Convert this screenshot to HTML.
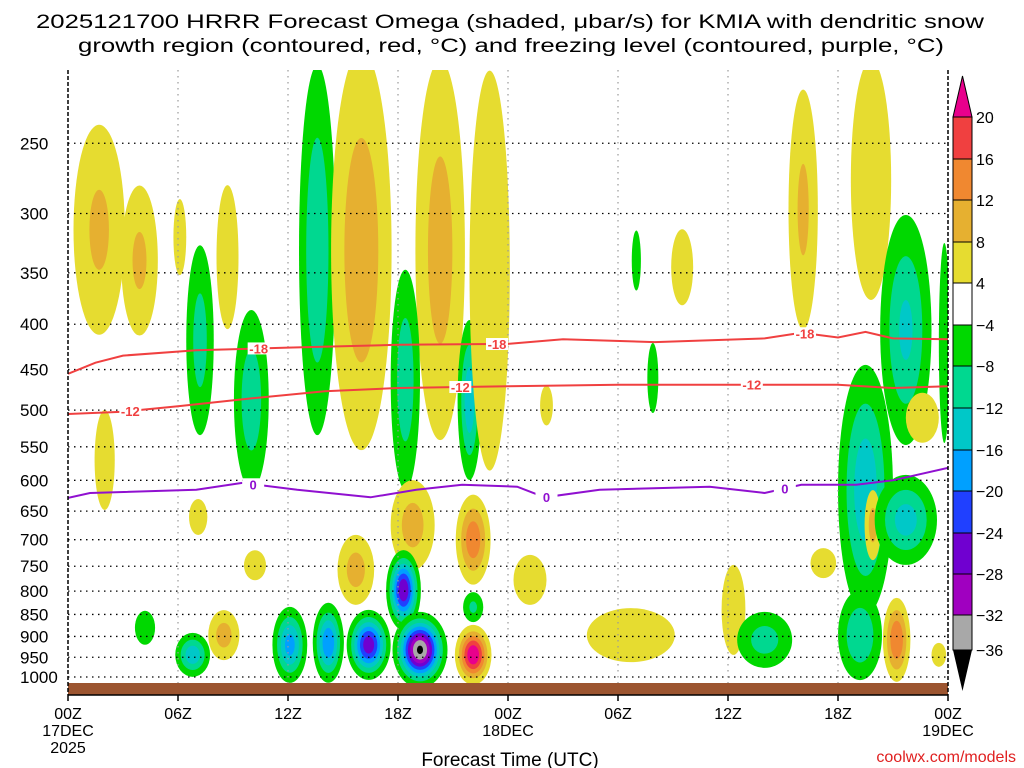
<!DOCTYPE html>
<html><head><meta charset="utf-8"><style>
body{margin:0;background:#fff;}
svg{display:block;font-family:"Liberation Sans",sans-serif;}
</style></head><body>
<svg id="c" width="1024" height="768" viewBox="0 0 1024 768">
<g font-size="19" fill="#000" text-anchor="middle">
<text x="510" y="28" textLength="948" lengthAdjust="spacingAndGlyphs">2025121700 HRRR Forecast Omega (shaded, μbar/s) for KMIA with dendritic snow</text>
<text x="511" y="52" textLength="866" lengthAdjust="spacingAndGlyphs">growth region (contoured, red, °C) and freezing level (contoured, purple, °C)</text>
</g>
<defs><clipPath id="pc"><rect x="68" y="70" width="880" height="613"/></clipPath></defs>
<g id="fields" clip-path="url(#pc)"></g>
<g id="grid"></g>
<g id="lines" clip-path="url(#pc)"></g>
<rect x="68" y="683" width="880" height="12" fill="#9c5530"/>
<g id="axes"></g>
<g id="cbar"></g>
<text x="510" y="766" font-size="19" text-anchor="middle">Forecast Time (UTC)</text>
<text x="1016" y="762" font-size="16" text-anchor="end" fill="#e02020">coolwx.com/models</text>
</svg>
<script>
const NS="http://www.w3.org/2000/svg";
// ---- data ----
const pressureTicks=[250,300,350,400,450,500,550,600,650,700,750,800,850,900,950,1000];
const timeTickHours=[0,6,12,18,24,30,36,42,48];
const timeTickLabels=["00Z","06Z","12Z","18Z","00Z","06Z","12Z","18Z","00Z"];
const cbarLevels=[20,16,12,8,4,-4,-8,-12,-16,-20,-24,-28,-32,-36];
const posThresh=[4,8,12,16,20];
const posColors=["#e6dc30","#e6b030","#f08830","#f04040","#e8008c"];
const negThresh=[4,8,12,16,20,24,28,32,36];
const negColors=["#00d800","#00d890","#00c8c8","#00a0ff","#2040ff","#7000d0","#a000c0","#a8a8a8","#000000"];
// omega blobs: hour, pressure, peak value, half width (hours), half height (px)
const blobHour=[1.7,3.9,6.1,8.7,7.2,10.0,13.6,16.0,20.3,18.4,21.9,23.0,31.0,33.5,40.1,43.8,45.7,43.5,46.6,2.0,7.1,10.2,15.7,18.8,22.1,22.1,22.1,18.3,19.2,16.4,14.2,12.1,6.8,4.2,8.5,25.2,30.7,36.3,38.0,41.2,43.9,45.2,47.5,45.7,43.2,31.9,26.1,47.8];
const blobPres=[313,339,319,336,417,487,330,330,330,462,487,348,339,345,297,275,406,615,510,569,660,748,757,674,700,944,834,798,932,920,915,920,944,880,897,777,897,840,908,744,674,908,944,665,897,460,494,420];
const blobVal=[9,9,5,5,-10,-11,-12,11,10,-11,-15,6,-5,5,9,6,-13,-15,5,8,5,5,10,10,15,24,-9,-28,-37,-27,-20,-18,-15,-8,10,5,8,6,-10,5,10,16,5,-14,-12,-6,5,-7];
const blobHalfW=[1.4,1.0,0.35,0.6,0.75,0.95,1.0,1.65,1.35,0.8,0.65,1.1,0.25,0.6,0.8,1.1,1.4,1.5,0.9,0.55,0.5,0.6,1.0,1.2,0.95,1.0,0.55,0.95,1.5,1.2,0.85,0.95,0.95,0.55,0.85,0.9,2.4,0.65,1.5,0.7,0.45,0.75,0.4,1.7,1.2,0.3,0.35,0.3];
const blobHalfH=[105,75,38,72,95,90,185,200,190,110,80,200,30,38,120,120,115,125,25,50,18,15,35,45,45,30,15,40,38,35,40,38,22,17,25,25,27,45,28,15,35,42,12,45,45,35,20,100];
// temperature contour lines
const lineHours=[[0,1.5,3,7,12,18,24,27,32,38,40,42,43.5,45,48],[0,3,6,10,14,18,24,30,36,42,45,48],[0,1.2,7,9.5,12.5,16.5,19,21.5,24.5,26,29,35,38,40,43,45,48]];
const linePres=[[455,442,434,428,425,422,421,416,419,415,409,414,408,415,416],[505,502,495,485,476,472,470,468,468,468,472,470],[628,620,615,604,615,627,615,607,610,627,615,610,620,607,607,600,581]];
const lineLabels=["-18","-12","0"];
const lineColors=["#f04040","#f04040","#9010d0"];
const labelHours=[[10.4,23.4,40.2],[3.4,21.4,37.3],[10.1,26.1,39.1]];
// ---- axes functions ----
const X0=68,X1=948;
const xs=h=>X0+(X1-X0)*h/48;
const ys=p=>677+385*Math.log(p/1000);
function el(tag,attrs,parent){const e=document.createElementNS(NS,tag);for(const k in attrs)e.setAttribute(k,attrs[k]);parent.appendChild(e);return e;}
const fields=document.getElementById('fields');
for(let i=0;i<blobVal.length;i++){
  const v=blobVal[i],neg=v<0,a=Math.abs(v);
  const th=neg?negThresh:posThresh,cols=neg?negColors:posColors;
  const cx=xs(blobHour[i]),cy=ys(blobPres[i]);
  const rx=blobHalfW[i]*(X1-X0)/48,ry=blobHalfH[i];
  const g=el('g',{},fields);
  
  
  for(let k=0;k<th.length;k++){
    if(a<=th[k])break;
    const s=Math.sqrt(Math.log(a/th[k])/Math.log(a/4));
    el('ellipse',{cx:cx,cy:cy,rx:rx*s,ry:ry*s,fill:cols[k]},g);
  }
}
const grid=document.getElementById('grid');
pressureTicks.forEach(p=>{
  const l=el('line',{x1:X0,x2:X1,y1:ys(p),y2:ys(p),stroke:'#000','stroke-width':1.3,'stroke-dasharray':'1.5 4.5'},grid);
  
  
});
timeTickHours.slice(1,-1).forEach(h=>{
  el('line',{x1:xs(h),x2:xs(h),y1:70,y2:683,stroke:'#999','stroke-width':1.2,'stroke-dasharray':'1.5 4.5'},grid);
});
const lines=document.getElementById('lines');
lineHours.forEach((hs,j)=>{
  const d=hs.map((h,i)=>(i?'L':'M')+xs(h).toFixed(1)+' '+ys(linePres[j][i]).toFixed(1)).join(' ');
  const pth=el('path',{d:d,fill:'none',stroke:lineColors[j],'stroke-width':2},lines);
  
  
  labelHours[j].forEach(h=>{
    let k=0;while(k<hs.length-2&&hs[k+1]<h)k++;
    const f=(h-hs[k])/(hs[k+1]-hs[k]);
    const p=linePres[j][k]+f*(linePres[j][k+1]-linePres[j][k]);
    el('rect',{x:xs(h)-11,y:ys(p)-6,width:22,height:12,fill:'#fff'},lines);
    const t=el('text',{x:xs(h),y:ys(p)+5,'font-size':13,'font-weight':'bold','text-anchor':'middle',fill:lineColors[j]},lines);
    t.textContent=lineLabels[j];
    
    
  });
});
const axes=document.getElementById('axes');
el('line',{x1:X0,x2:X0,y1:70,y2:695,stroke:'#000','stroke-width':1.5,'stroke-dasharray':'4 2'},axes);
el('line',{x1:X1,x2:X1,y1:70,y2:695,stroke:'#000','stroke-width':1.5,'stroke-dasharray':'4 2'},axes);
el('line',{x1:X0,x2:X1,y1:695,y2:695,stroke:'#000','stroke-width':1.5},axes);
pressureTicks.forEach(p=>{
  const t=el('text',{x:20,y:ys(p)+6,'font-size':17},axes);t.textContent=p;
  
  
});
timeTickHours.forEach((h,i)=>{
  el('line',{x1:xs(h),x2:xs(h),y1:695,y2:701,stroke:'#000','stroke-width':1.5},axes);
  const t=el('text',{x:xs(h),y:719,'font-size':16,'text-anchor':'middle'},axes);t.textContent=timeTickLabels[i];
  
  
});
[[xs(0),'17DEC'],[xs(24),'18DEC'],[xs(48),'19DEC']].forEach(a=>{
  const t=el('text',{x:a[0],y:736,'font-size':16,'text-anchor':'middle'},axes);t.textContent=a[1];
});
{const t=el('text',{x:xs(0),y:753,'font-size':16,'text-anchor':'middle'},axes);t.textContent='2025';}
const cb=document.getElementById('cbar');
const cbPos=[117,159,200,242,283,325,366,408,450,491,533,574,615,650];
const cbCols=["#f04040","#f08830","#e6b030","#e6dc30","#ffffff","#00d800","#00d890","#00c8c8","#00a0ff","#2040ff","#7000d0","#a000c0","#a8a8a8"];
el('polygon',{points:'953,117 972,117 962.5,76',fill:'#e8008c',stroke:'#000'},cb);
for(let i=0;i<cbCols.length;i++){
  el('rect',{x:953,y:cbPos[i],width:19,height:cbPos[i+1]-cbPos[i],fill:cbCols[i],stroke:'#000','stroke-width':1},cb);
}
el('polygon',{points:'953,650 972,650 962.5,691',fill:'#000'},cb);
cbarLevels.forEach((l,i)=>{
  const t=el('text',{x:976,y:cbPos[i]+6,'font-size':16},cb);t.textContent=l<0?'−'+(-l):l;
  
  
});
</script>
</body></html>
